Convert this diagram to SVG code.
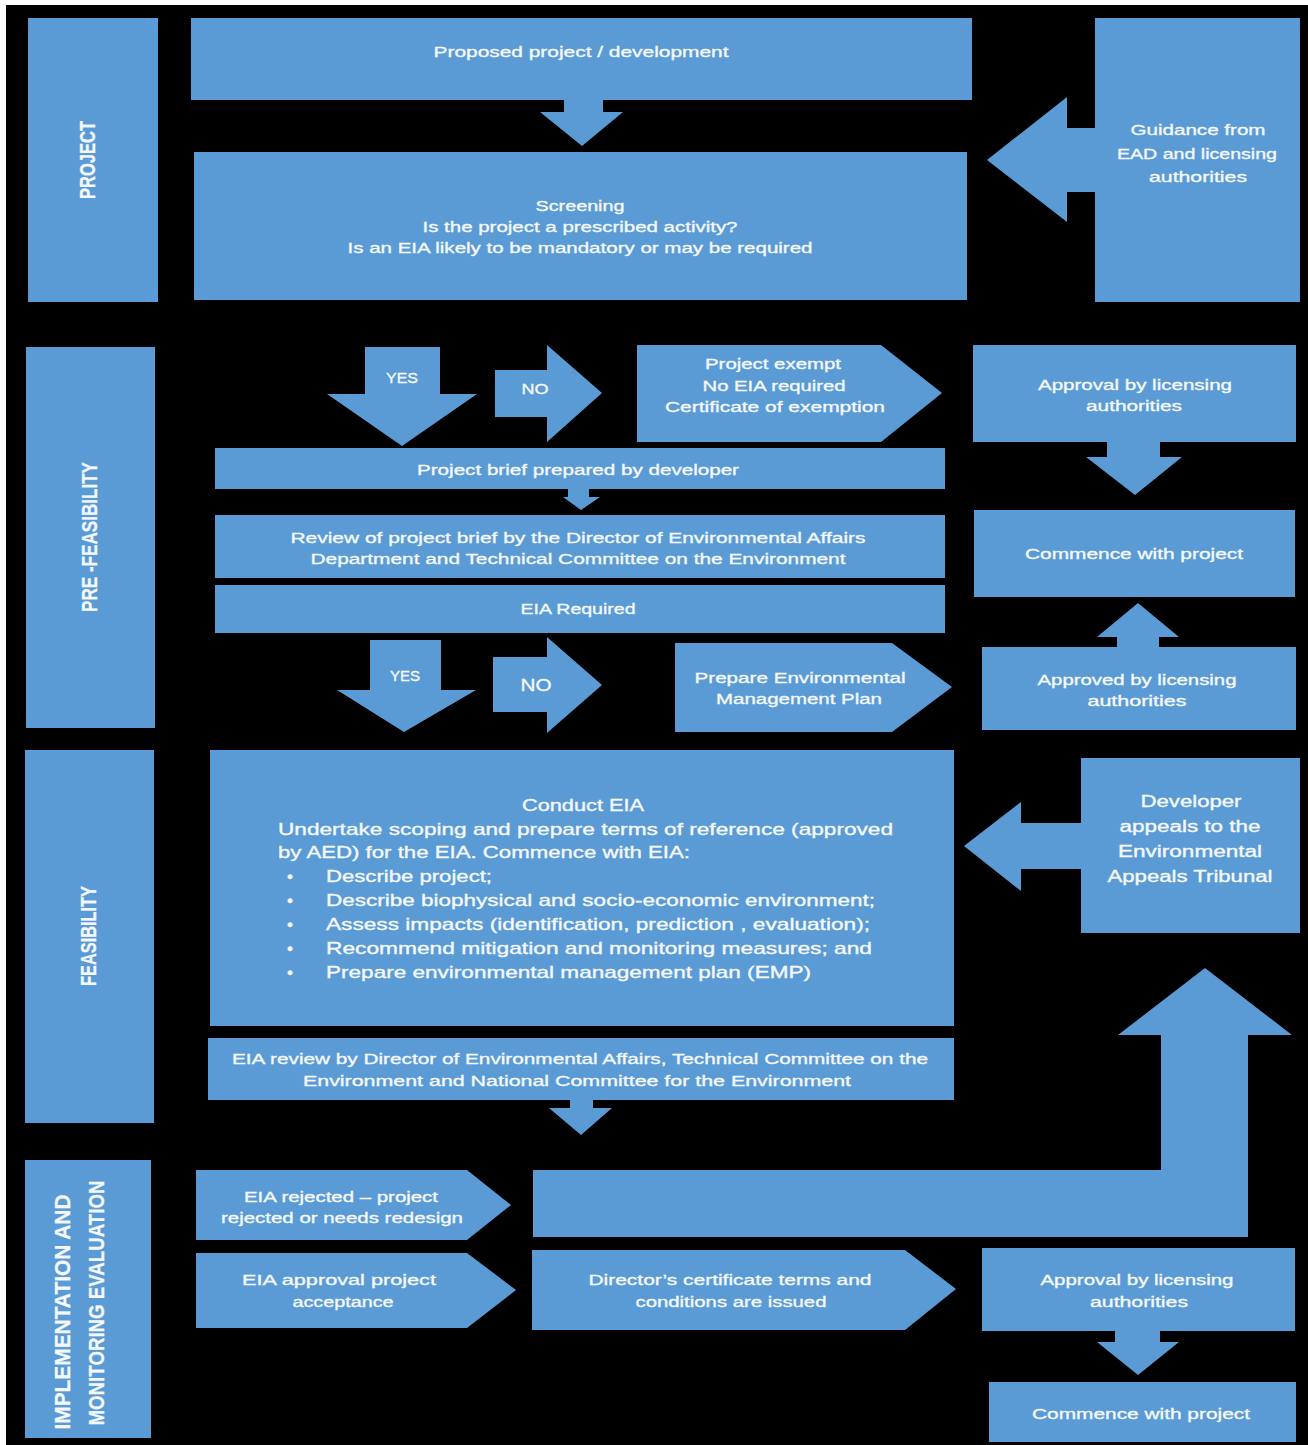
<svg xmlns="http://www.w3.org/2000/svg" width="1308" height="1445" viewBox="0 0 1308 1445">
<defs>
<style>
.bx{fill:#5b9bd5}
.ar{fill:#5b9bd5}
text{font-family:"Liberation Sans",Arial,sans-serif;fill:#f4f8fc;stroke:#f4f8fc;stroke-width:0.35px;text-anchor:middle;dominant-baseline:central;font-size:15.5px}
.lane{font-weight:bold;font-size:16px;stroke-width:0.2px}
.big{font-size:17px}
.mid{font-size:16px}
.lt{text-anchor:start}
</style>
</defs>
<rect x="0" y="0" width="1308" height="1445" fill="#ffffff"/>
<rect x="6" y="5" width="1302" height="1440" fill="#000000"/>

<g id="connectors">
<polygon class="ar" points="564,100 603,100 603,112 623,112 582,146 540,112 564,112"/>
<polygon class="ar" points="1095,128 1067,128 1067,97 987,160 1067,222 1067,192 1095,192"/>
<g id="yes1"><polygon class="ar" points="365,347 440,347 440,394 477,394 402,446 327,394 365,394"/><text x="402" y="377" textLength="32" lengthAdjust="spacingAndGlyphs">YES</text></g>
<g id="no1"><polygon class="ar" points="495,370 547,370 547,345 602,393 547,442 547,417 495,417"/><text x="535" y="388" textLength="27" lengthAdjust="spacingAndGlyphs">NO</text></g>
<polygon class="ar" points="1107,442 1160,442 1160,457 1182,457 1135,495 1086,457 1107,457"/>
<polygon class="ar" points="1117,648 1159,648 1159,637 1179,637 1138,603 1097,637 1117,637"/>
<polygon class="ar" points="568,489 589,489 589,497 600,497 581,510 563,497 568,497"/>
<g id="yes2"><polygon class="ar" points="370,640 441,640 441,690 476,690 404,732 337,690 370,690"/><text x="405" y="675" textLength="30" lengthAdjust="spacingAndGlyphs">YES</text></g>
<g id="no2"><polygon class="ar" points="493,657 547,657 547,637 602,685 547,733 547,712 493,712"/><text class="big" x="536" y="685" textLength="31" lengthAdjust="spacingAndGlyphs">NO</text></g>
<polygon class="ar" points="1081,823 1021,823 1021,802 964,846 1021,891 1021,869 1081,869"/>
<polygon class="ar" points="570,1100 593,1100 593,1108 612,1108 581,1135 549,1108 570,1108"/>
<polygon class="ar" points="533,1170 1161,1170 1161,1035 1118,1035 1205,968 1292,1035 1248,1035 1248,1237 533,1237"/>
<polygon class="ar" points="1115,1331 1160,1331 1160,1342 1179,1342 1138,1375 1097,1342 1115,1342"/>
</g>

<g id="lane-project"><rect class="bx" x="28" y="18" width="130" height="284"/><text class="lane" transform="translate(87,160) scale(1.4,1) rotate(-90)" x="0" y="0" textLength="78" lengthAdjust="spacingAndGlyphs">PROJECT</text></g>
<g id="lane-prefeasibility"><rect class="bx" x="26" y="347" width="129" height="381"/><text class="lane" transform="translate(89,537) scale(1.4,1) rotate(-90)" x="0" y="0" textLength="150" lengthAdjust="spacingAndGlyphs">PRE -FEASIBILITY</text></g>
<g id="lane-feasibility"><rect class="bx" x="25" y="750" width="129" height="373"/><text class="lane" transform="translate(88,936) scale(1.4,1) rotate(-90)" x="0" y="0" textLength="100" lengthAdjust="spacingAndGlyphs">FEASIBILITY</text></g>
<g id="lane-implementation"><rect class="bx" x="25" y="1160" width="126" height="278"/>
<text class="lane" transform="translate(62,1312) scale(1.4,1) rotate(-90)" x="0" y="0" textLength="235" lengthAdjust="spacingAndGlyphs">IMPLEMENTATION AND</text>
<text class="lane" transform="translate(96,1303) scale(1.4,1) rotate(-90)" x="0" y="0" textLength="245" lengthAdjust="spacingAndGlyphs">MONITORING EVALUATION</text></g>

<g id="proposed"><rect class="bx" x="191" y="18" width="781" height="82"/><text x="581" y="51" textLength="295" lengthAdjust="spacingAndGlyphs">Proposed project / development</text></g>
<g id="screening"><rect class="bx" x="194" y="152" width="773" height="148"/>
<text x="580" y="205" textLength="89" lengthAdjust="spacingAndGlyphs">Screening</text>
<text x="580" y="226" textLength="315" lengthAdjust="spacingAndGlyphs">Is the project a prescribed activity?</text>
<text x="580" y="247" textLength="465" lengthAdjust="spacingAndGlyphs">Is an EIA likely to be mandatory or may be required</text></g>
<g id="guidance"><rect class="bx" x="1095" y="18" width="205" height="284"/>
<text x="1198" y="129" textLength="135" lengthAdjust="spacingAndGlyphs">Guidance from</text>
<text x="1197" y="153" textLength="160" lengthAdjust="spacingAndGlyphs">EAD and licensing</text>
<text x="1198" y="176" textLength="98" lengthAdjust="spacingAndGlyphs">authorities</text></g>

<g id="exempt"><polygon class="bx" points="637,345 881,345 942,393 881,442 637,442"/>
<text x="773" y="363" textLength="136" lengthAdjust="spacingAndGlyphs">Project exempt</text>
<text x="774" y="385" textLength="143" lengthAdjust="spacingAndGlyphs">No EIA required</text>
<text x="775" y="406" textLength="220" lengthAdjust="spacingAndGlyphs">Certificate of exemption</text></g>
<g id="approval1"><rect class="bx" x="973" y="345" width="323" height="97"/>
<text x="1135" y="384" textLength="194" lengthAdjust="spacingAndGlyphs">Approval by licensing</text>
<text x="1134" y="405" textLength="96" lengthAdjust="spacingAndGlyphs">authorities</text></g>
<g id="commence1"><rect class="bx" x="974" y="510" width="321" height="87"/><text x="1134" y="553" textLength="218" lengthAdjust="spacingAndGlyphs">Commence with project</text></g>
<g id="approved"><rect class="bx" x="982" y="647" width="314" height="83"/>
<text x="1137" y="679" textLength="199" lengthAdjust="spacingAndGlyphs">Approved by licensing</text>
<text x="1137" y="700" textLength="99" lengthAdjust="spacingAndGlyphs">authorities</text></g>
<g id="brief"><rect class="bx" x="215" y="448" width="730" height="41"/><text x="578" y="469" textLength="322" lengthAdjust="spacingAndGlyphs">Project brief prepared by developer</text></g>
<g id="review"><rect class="bx" x="215" y="515" width="730" height="63"/>
<text x="578" y="537" textLength="575" lengthAdjust="spacingAndGlyphs">Review of project brief by the Director of Environmental Affairs</text>
<text x="578" y="558" textLength="535" lengthAdjust="spacingAndGlyphs">Department and Technical Committee on the Environment</text></g>
<g id="eia-required"><rect class="bx" x="215" y="585" width="730" height="48"/><text x="578" y="608" textLength="115" lengthAdjust="spacingAndGlyphs">EIA Required</text></g>
<g id="emp"><polygon class="bx" points="675,643 892,643 952,687 892,732 675,732"/>
<text x="800" y="677" textLength="211" lengthAdjust="spacingAndGlyphs">Prepare Environmental</text>
<text x="799" y="698" textLength="166" lengthAdjust="spacingAndGlyphs">Management Plan</text></g>

<g id="conduct-eia"><rect class="bx" x="210" y="750" width="744" height="276"/>
<text class="big" x="583" y="805" textLength="122" lengthAdjust="spacingAndGlyphs">Conduct EIA</text>
<text class="big lt" x="278" y="829" textLength="615" lengthAdjust="spacingAndGlyphs">Undertake scoping and prepare terms of reference (approved</text>
<text class="big lt" x="278" y="852" textLength="412" lengthAdjust="spacingAndGlyphs">by AED) for the EIA. Commence with EIA:</text>
<text class="big" x="290" y="876">•</text><text class="big lt" x="326" y="876" textLength="166" lengthAdjust="spacingAndGlyphs">Describe project;</text>
<text class="big" x="290" y="900">•</text><text class="big lt" x="326" y="900" textLength="549" lengthAdjust="spacingAndGlyphs">Describe biophysical and socio-economic environment;</text>
<text class="big" x="290" y="924">•</text><text class="big lt" x="326" y="924" textLength="544" lengthAdjust="spacingAndGlyphs">Assess impacts (identification, prediction , evaluation);</text>
<text class="big" x="290" y="948">•</text><text class="big lt" x="326" y="948" textLength="546" lengthAdjust="spacingAndGlyphs">Recommend mitigation and monitoring measures; and</text>
<text class="big" x="290" y="972">•</text><text class="big lt" x="326" y="972" textLength="485" lengthAdjust="spacingAndGlyphs">Prepare environmental management plan (EMP)</text></g>
<g id="developer"><rect class="bx" x="1081" y="758" width="219" height="175"/>
<text class="mid" x="1191" y="801" textLength="101" lengthAdjust="spacingAndGlyphs">Developer</text>
<text class="mid" x="1190" y="826" textLength="141" lengthAdjust="spacingAndGlyphs">appeals to the</text>
<text class="mid" x="1190" y="851" textLength="144" lengthAdjust="spacingAndGlyphs">Environmental</text>
<text class="mid" x="1190" y="876" textLength="165" lengthAdjust="spacingAndGlyphs">Appeals Tribunal</text></g>
<g id="eia-review"><rect class="bx" x="208" y="1038" width="746" height="62"/>
<text x="580" y="1058" textLength="696" lengthAdjust="spacingAndGlyphs">EIA review by Director of Environmental Affairs, Technical Committee on the</text>
<text x="577" y="1080" textLength="548" lengthAdjust="spacingAndGlyphs">Environment and National Committee for the Environment</text></g>

<g id="rejected"><polygon class="bx" points="196,1170 467,1170 511,1205 467,1240 196,1240"/>
<text x="341" y="1196" textLength="194" lengthAdjust="spacingAndGlyphs">EIA rejected – project</text>
<text x="342" y="1217" textLength="242" lengthAdjust="spacingAndGlyphs">rejected or needs redesign</text></g>
<g id="acceptance"><polygon class="bx" points="196,1253 467,1253 516,1290 467,1328 196,1328"/>
<text x="339" y="1279" textLength="194" lengthAdjust="spacingAndGlyphs">EIA approval project</text>
<text x="343" y="1301" textLength="101" lengthAdjust="spacingAndGlyphs">acceptance</text></g>
<g id="certificate"><polygon class="bx" points="532,1250 905,1250 956,1289 905,1330 532,1330"/>
<text x="730" y="1279" textLength="283" lengthAdjust="spacingAndGlyphs">Director’s certificate terms and</text>
<text x="731" y="1301" textLength="191" lengthAdjust="spacingAndGlyphs">conditions are issued</text></g>
<g id="approval2"><rect class="bx" x="982" y="1248" width="313" height="83"/>
<text x="1137" y="1279" textLength="193" lengthAdjust="spacingAndGlyphs">Approval by licensing</text>
<text x="1139" y="1301" textLength="98" lengthAdjust="spacingAndGlyphs">authorities</text></g>
<g id="commence2"><rect class="bx" x="989" y="1382" width="307" height="60"/><text x="1141" y="1413" textLength="218" lengthAdjust="spacingAndGlyphs">Commence with project</text></g>
</svg>
